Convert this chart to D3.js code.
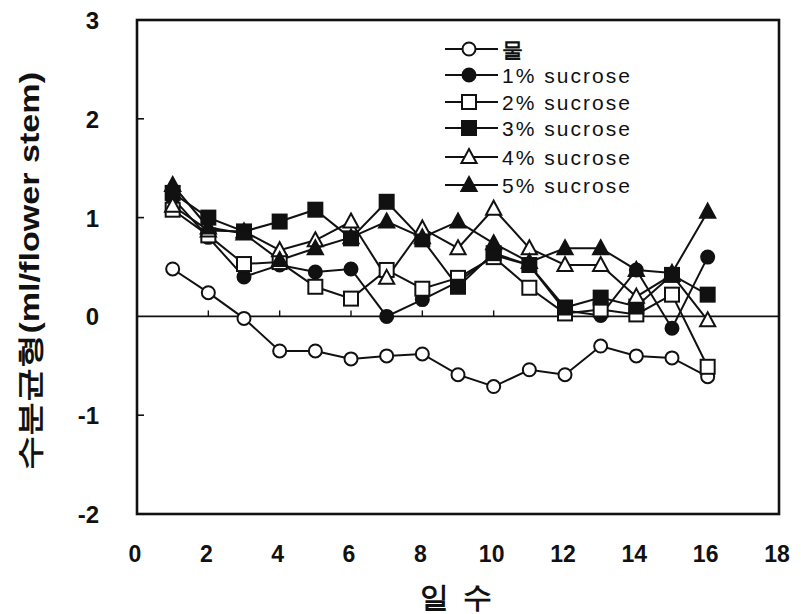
<!DOCTYPE html>
<html>
<head>
<meta charset="utf-8">
<script src="https://cdn.jsdelivr.net/npm/d3@7"></script>
<style>
  html, body { margin: 0; padding: 0; background: #fff; }
  svg { display: block; }
  text { font-family: "Liberation Sans", Arial, Helvetica, sans-serif; fill: #111; }
</style>
</head>
<body>
<svg id="chart" width="801" height="614"></svg>
<script>
// Days after treatment
const days = [1, 2, 3, 4, 5, 6, 7, 8, 9, 10, 11, 12, 13, 14, 15, 16];

// Water balance (ml/flower stem) for each holding solution
const water     = [0.48, 0.24, -0.02, -0.35, -0.35, -0.43, -0.40, -0.38, -0.59, -0.71, -0.54, -0.59, -0.30, -0.40, -0.42, -0.61];
const sucrose1  = [1.20, 0.80, 0.40, 0.52, 0.45, 0.48, 0.00, 0.17, 0.35, 0.62, 0.52, 0.06, 0.01, 0.47, -0.12, 0.60];
const sucrose2  = [1.08, 0.82, 0.53, 0.55, 0.30, 0.18, 0.47, 0.28, 0.39, 0.60, 0.29, 0.03, 0.07, 0.02, 0.22, -0.51];
const sucrose3  = [1.25, 1.00, 0.86, 0.96, 1.08, 0.79, 1.16, 0.78, 0.30, 0.64, 0.52, 0.09, 0.19, 0.10, 0.42, 0.22];
const sucrose4  = [1.12, 0.87, 0.86, 0.67, 0.77, 0.96, 0.39, 0.89, 0.69, 1.09, 0.69, 0.52, 0.52, 0.20, 0.42, -0.04];
const sucrose5  = [1.33, 0.90, 0.84, 0.57, 0.69, 0.80, 0.96, 0.80, 0.96, 0.74, 0.55, 0.69, 0.69, 0.47, 0.44, 1.06];

const seriesNames = ["물", "1% sucrose", "2% sucrose", "3% sucrose", "4% sucrose", "5% sucrose"];
const seriesValues = [water, sucrose1, sucrose2, sucrose3, sucrose4, sucrose5];

const xTicks = [0, 2, 4, 6, 8, 10, 12, 14, 16, 18];
const yTicks = [-2, -1, 0, 1, 2, 3];
const innerYTicks = [-1, 1, 2];
const zeroLineTicks = [2, 4, 6, 8, 10];

const xTitle = "일 수";
const yTitle = "수분균형(ml/flower stem)";

// marker style per series: shape + fill
const markerStyle = [
  { shape: "circle",   filled: false },
  { shape: "circle",   filled: true  },
  { shape: "square",   filled: false },
  { shape: "square",   filled: true  },
  { shape: "triangle", filled: false },
  { shape: "triangle", filled: true  }
];

const svg = d3.select("#chart");
const frame = { left: 137, right: 779, top: 20, bottom: 514 };

const x = d3.scaleLinear().domain([0, 18]).range([frame.left, frame.right]);
const y = d3.scaleLinear().domain([-2, 3]).range([frame.bottom, frame.top]);

const ink = "#111";

function drawMarker(g, style, cx, cy) {
  const fill = style.filled ? ink : "#fff";
  if (style.shape === "circle") {
    g.append("circle").attr("cx", cx).attr("cy", cy).attr("r", 6.5)
      .attr("fill", fill).attr("stroke", ink).attr("stroke-width", 2);
  } else if (style.shape === "square") {
    g.append("rect").attr("x", cx - 7).attr("y", cy - 7).attr("width", 14).attr("height", 14)
      .attr("fill", fill).attr("stroke", ink).attr("stroke-width", 2);
  } else {
    const s = 8;
    const pts = [[cx, cy - s], [cx + s * 0.95, cy + s * 0.75], [cx - s * 0.95, cy + s * 0.75]];
    g.append("polygon").attr("points", pts.map(p => p.join(",")).join(" "))
      .attr("fill", fill).attr("stroke", ink).attr("stroke-width", 2).attr("stroke-linejoin", "miter");
  }
}

// zero reference line
svg.append("line")
  .attr("x1", frame.left).attr("x2", frame.right)
  .attr("y1", y(0)).attr("y2", y(0))
  .attr("stroke", ink).attr("stroke-width", 1.6);

svg.append("g").selectAll("line").data(zeroLineTicks).join("line")
  .attr("x1", d => x(d)).attr("x2", d => x(d))
  .attr("y1", y(0)).attr("y2", y(0) - 6)
  .attr("stroke", ink).attr("stroke-width", 1.4);

// inner ticks on the left edge
svg.append("g").selectAll("line").data(innerYTicks).join("line")
  .attr("x1", frame.left).attr("x2", frame.left + 7)
  .attr("y1", d => y(d)).attr("y2", d => y(d))
  .attr("stroke", ink).attr("stroke-width", 1.6);

// series lines
const line = d3.line().x((d, i) => x(days[i])).y(d => y(d));
const linesG = svg.append("g");
seriesValues.forEach(vals => {
  linesG.append("path").attr("d", line(vals))
    .attr("fill", "none").attr("stroke", ink).attr("stroke-width", 2);
});

// markers (water first, 5% last so filled ones sit on top)
const marksG = svg.append("g");
seriesValues.forEach((vals, si) => {
  vals.forEach((v, i) => drawMarker(marksG, markerStyle[si], x(days[i]), y(v)));
});

// plot frame
svg.append("rect")
  .attr("x", frame.left).attr("y", frame.top)
  .attr("width", frame.right - frame.left).attr("height", frame.bottom - frame.top)
  .attr("fill", "none").attr("stroke", ink).attr("stroke-width", 2.6);

// tick labels
svg.append("g").selectAll("text").data(xTicks).join("text")
  .attr("x", d => x(d) - 2).attr("y", 562)
  .attr("text-anchor", "middle")
  .attr("font-size", 23).attr("font-weight", "bold")
  .text(d => d);

svg.append("g").selectAll("text").data(yTicks).join("text")
  .attr("x", 99).attr("y", d => y(d) + 9)
  .attr("text-anchor", "end")
  .attr("font-size", 24).attr("font-weight", "bold")
  .text(d => d < 0 ? "-" + Math.abs(d) : d);

// axis titles
svg.append("text")
  .attr("x", 456).attr("y", 607)
  .attr("text-anchor", "middle")
  .attr("font-size", 29).attr("font-weight", "bold")
  .attr("font-family", "'Noto Sans CJK KR', 'Liberation Sans', sans-serif")
  .attr("textLength", 72).attr("lengthAdjust", "spacing")
  .text(xTitle);

svg.append("text")
  .attr("transform", "translate(39,271) rotate(-90)")
  .attr("text-anchor", "middle")
  .attr("font-size", 27).attr("font-weight", "bold")
  .attr("font-family", "'Noto Sans CJK KR', 'Liberation Sans', sans-serif")
  .attr("textLength", 398).attr("lengthAdjust", "spacingAndGlyphs")
  .text(yTitle);

// legend
const legendRows = [49, 75, 102, 128, 157, 185];
const legend = svg.append("g");
seriesNames.forEach((name, i) => {
  const ly = legendRows[i];
  legend.append("line").attr("x1", 445).attr("x2", 498).attr("y1", ly).attr("y2", ly)
    .attr("stroke", ink).attr("stroke-width", 2);
  drawMarker(legend, markerStyle[i], 469, ly);
  const t = legend.append("text").attr("x", 502).attr("y", ly + 8)
    .attr("font-size", 21)
    .text(name);
  if (i === 0) {
    t.attr("font-family", "'Noto Sans CJK KR', sans-serif").attr("font-weight", "bold");
  } else {
    t.attr("textLength", 128).attr("lengthAdjust", "spacing");
  }
});
</script>
</body>
</html>
